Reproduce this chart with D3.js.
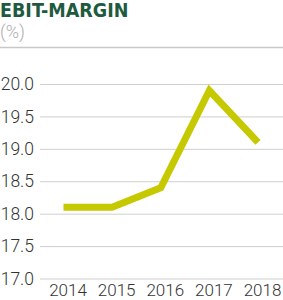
<!DOCTYPE html>
<html>
<head>
<meta charset="utf-8">
<script src="https://cdn.jsdelivr.net/npm/d3@7"></script>
<style>
  body { margin: 0; background: #fff; }
  svg { display: block; }
</style>
</head>
<body>
<div id="chart"></div>
<script>
// data
const years = ["2014", "2015", "2016", "2017", "2018"];
const margins = [18.1, 18.1, 18.4, 19.9, 19.1];
const yTicks = [17.0, 17.5, 18.0, 18.5, 19.0, 19.5, 20.0];

const width = 283, height = 300;

const svg = d3.select("#chart").append("svg")
    .attr("width", width)
    .attr("height", height);

// header
svg.append("text")
    .attr("x", 0)
    .attr("y", 16.5)
    .attr("font-family", "'DejaVu Sans Condensed', 'DejaVu Sans', sans-serif")
    .attr("font-weight", "bold")
    .attr("font-size", "19.5px")
    .attr("fill", "#1e5a3e")
    .text("EBIT-MARGIN");

svg.append("text")
    .attr("x", 0)
    .attr("y", 38)
    .attr("font-family", "Roboto, sans-serif")
    .attr("font-weight", 300)
    .attr("font-size", "18px")
    .attr("fill", "#b0b0b0")
    .text("(%)");

svg.append("line")
    .attr("x1", 0).attr("x2", width)
    .attr("y1", 47.5).attr("y2", 47.5)
    .attr("stroke", "#c8c8c8")
    .attr("stroke-width", 1.5);

// scales
const x = d3.scalePoint()
    .domain(years)
    .range([63.5, 258]);

const y = d3.scaleLinear()
    .domain([17, 20])
    .range([278.5, 84]);

// grid + y labels
const yAxis = svg.append("g")
    .attr("transform", "translate(40,0)")
    .call(d3.axisLeft(y).tickValues(yTicks).tickFormat(d3.format(".1f")).tickSize(-(width - 40)).tickPadding(6));

yAxis.select(".domain").remove();
yAxis.selectAll(".tick line").attr("stroke", "#cfcfcf");
yAxis.selectAll(".tick text")
    .attr("font-family", "Roboto, sans-serif")
    .attr("font-weight", 300)
    .attr("font-size", "17.5px")
    .attr("fill", "#333");

// x labels
const xAxis = svg.append("g")
    .attr("transform", "translate(4,281)")
    .call(d3.axisBottom(x).tickSize(0).tickPadding(3));

xAxis.select(".domain").remove();
xAxis.selectAll(".tick text")
    .attr("font-family", "Roboto, sans-serif")
    .attr("font-weight", 300)
    .attr("font-size", "17px")
    .attr("fill", "#333");

// line
const line = d3.line()
    .x((d, i) => x(years[i]))
    .y(d => y(d));

svg.append("path")
    .datum(margins)
    .attr("fill", "none")
    .attr("stroke", "#c6c800")
    .attr("stroke-width", 7)
    .attr("stroke-linejoin", "miter")
    .attr("d", line);
</script>
</body>
</html>
